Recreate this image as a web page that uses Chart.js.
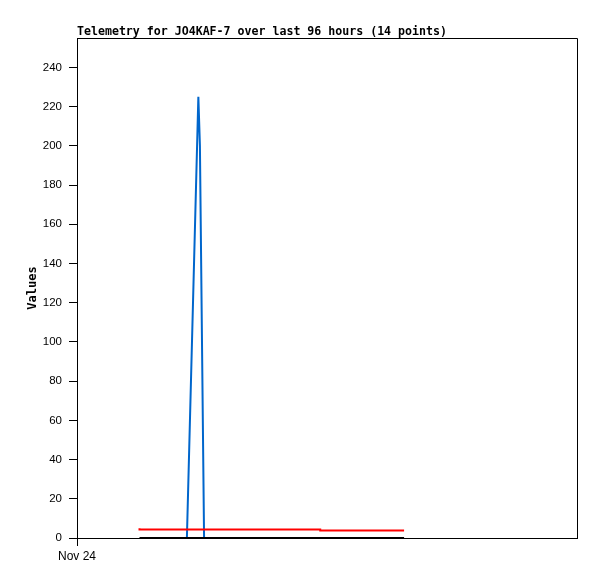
<!DOCTYPE html>
<html>
<head>
<meta charset="utf-8">
<script src="https://cdn.jsdelivr.net/npm/chart.js@4/dist/chart.umd.min.js"></script>
<style>
  html, body { margin: 0; padding: 0; background: #fff; }
  #wrap { width: 597px; height: 579px; }
</style>
</head>
<body>
<div id="wrap"><canvas id="c" width="597" height="579"></canvas></div>
<script>
// Hours since start of the 96-hour window (Nov 24 00:00 at hour 0)
const titleText = 'Telemetry for JO4KAF-7 over last 96 hours (14 points)';
const xTickLabels = ['Nov 24'];
const blueHours = [21.1, 23.3, 23.6, 24.4];
const blueValues = [0, 225, 200, 0];
const redHours = [12, 46.7, 50.7, 62.8];
const redValues = [5, 4.3, 3.8, 3.8];
const blackHours = [12, 62.8];
const blackValues = [0, 0];

const toPts = (xs, ys) => xs.map((x, i) => ({ x: x, y: ys[i] }));

const frame = {
  id: 'frame',
  afterDraw(chart) {
    const { ctx, chartArea: a } = chart;
    ctx.save();
    ctx.strokeStyle = '#000';
    ctx.lineWidth = 1;
    ctx.beginPath();
    ctx.moveTo(a.left, a.top + 0.5);
    ctx.lineTo(a.right + 0.5, a.top + 0.5);
    ctx.lineTo(a.right + 0.5, a.bottom);
    ctx.stroke();
    ctx.fillStyle = '#000';
    ctx.font = 'bold 11.6px "DejaVu Sans Mono"';
    ctx.textBaseline = 'alphabetic';
    ctx.textAlign = 'left';
    ctx.fillText(titleText, a.left, a.top - 3);
    ctx.restore();
  }
};

new Chart(document.getElementById('c'), {
  type: 'line',
  data: {
    datasets: [
      { data: toPts(blackHours, blackValues), borderColor: '#000000', borderWidth: 2, pointRadius: 0, tension: 0 },
      { data: toPts(redHours, redValues), borderColor: '#ff0000', borderWidth: 2, pointRadius: 0, stepped: 'after' },
      { data: toPts(blueHours, blueValues), borderColor: '#0066cc', borderWidth: 2, pointRadius: 0, tension: 0 }
    ]
  },
  options: {
    responsive: false,
    animation: false,
    devicePixelRatio: 1,
    layout: { padding: { left: 0, right: 20, top: 38, bottom: 0 } },
    plugins: { legend: { display: false }, tooltip: { enabled: false }, title: { display: false } },
    scales: {
      x: {
        type: 'linear', min: 0, max: 96,
        afterBuildTicks: s => { s.ticks = [{ value: 0 }]; },
        afterFit: s => { s.height = 41; },
        ticks: { callback: (v) => (v === 0 ? xTickLabels[0] : ''), color: '#000', font: { family: 'Liberation Sans', size: 12 }, maxRotation: 0, padding: 3 },
        grid: { drawOnChartArea: false, tickLength: 8, color: '#000' },
        border: { display: true, color: '#000' }
      },
      y: {
        min: 0, max: 255,
        afterBuildTicks: s => { s.ticks = s.ticks.filter(t => t.value % 20 === 0); },
        afterFit: s => { s.width = 77; },
        ticks: { stepSize: 20, color: '#000', font: { family: 'Liberation Sans', size: 11.5 }, padding: 7 },
        grid: { drawOnChartArea: false, tickLength: 8, color: '#000' },
        border: { display: true, color: '#000' },
        title: { display: true, text: 'Values', color: '#000', font: { family: 'DejaVu Sans Mono', size: 12, weight: 'bold' }, padding: { top: 26 } }
      }
    }
  },
  plugins: [frame]
});
</script>
</body>
</html>
